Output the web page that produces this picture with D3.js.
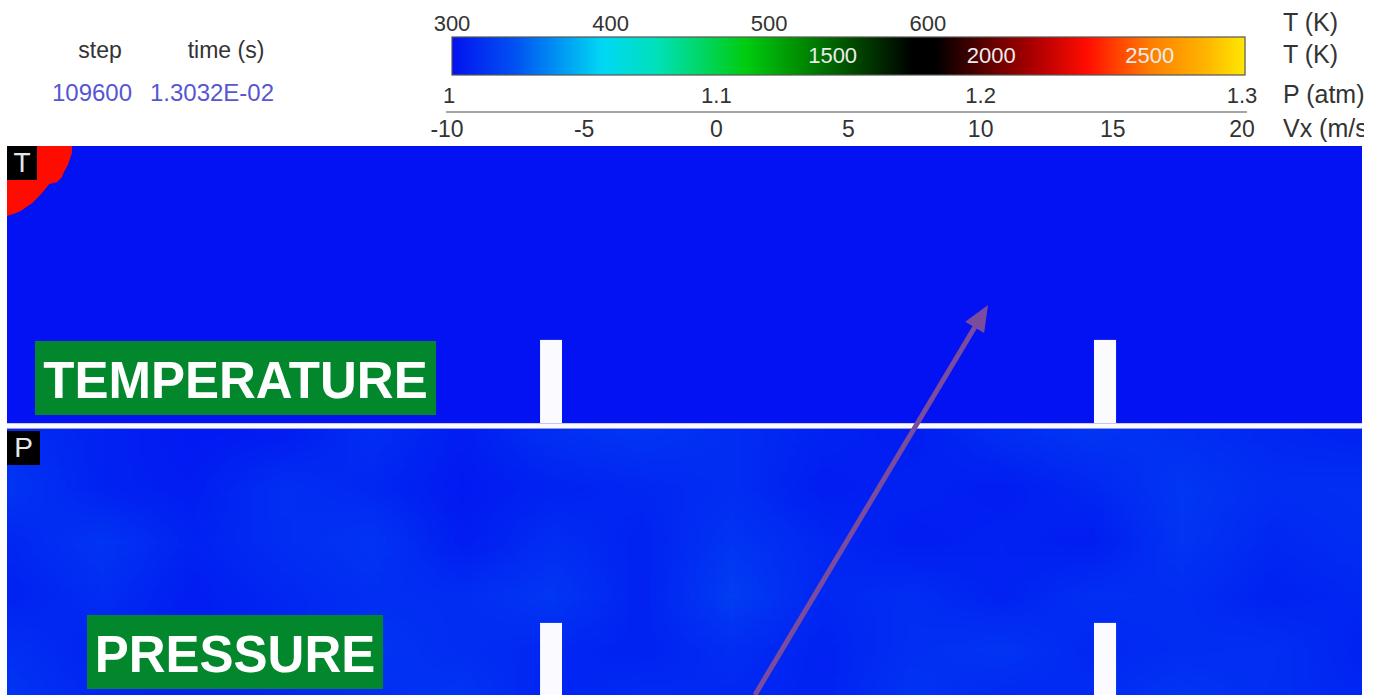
<!DOCTYPE html>
<html>
<head>
<meta charset="utf-8">
<script src="https://cdn.jsdelivr.net/npm/d3@7/dist/d3.min.js"></script>
<style>
  html, body { margin: 0; padding: 0; background: #fff; }
  svg { display: block; font-family: "Liberation Sans", Arial, sans-serif; }
</style>
</head>
<body>
<svg id="chart" width="1378" height="695"></svg>
<script>
// ---- simulation snapshot values ----
const stepValue = "109600";
const timeValue = "1.3032E-02";

// colour-bar tick rows
const tempTicksTop = [300, 400, 500, 600];      // T (K), upper row
const tempTicksBar = [1500, 2000, 2500];        // T (K), labels inside the bar
const pressureTicks = [1, 1.1, 1.2, 1.3];       // P (atm)
const velocityTicks = [-10, -5, 0, 5, 10, 15, 20]; // Vx (m/s)
const unitLabels = ["T (K)", "T (K)", "P (atm)", "Vx (m/s)"];

// colour map (fraction along the bar -> colour)
const colorMapOffsets = [0, 0.08, 0.19, 0.26, 0.37, 0.44, 0.58, 0.61, 0.67, 0.74, 0.80, 0.88, 0.95, 1];
const colorMapColors = ["#0212f2", "#0052f2", "#00d8f4", "#00e0b8", "#00cc10", "#008c00",
                        "#000000", "#000000", "#580000", "#b40000", "#ff0c00", "#ff7c00", "#ffb400", "#ffe800"];

// channel obstacles (x in % of channel length, h = fraction of panel height)
const obstacleX0 = [39.34, 80.22];
const obstacleX1 = [40.96, 81.85];
const obstacleH = [0.30, 0.30];

// temperature field: cold gas plus burnt pocket in the upper-left corner
const ambientTemperature = 300;
const flameTemperature = 2300;
const flameFrontAngle = [0, 6, 12, 18, 24, 30, 36, 42, 48, 54, 60, 66, 72, 78, 84, 90];   // degrees from the top wall
const flameFrontRadius = [4.80, 4.82, 4.74, 4.70, 4.62, 4.66, 4.55, 4.20, 4.25, 4.34, 4.45, 4.60, 4.72, 4.90, 5.02, 5.17]; // % of channel length

// pressure field (atm) on a coarse 6 x 16 grid, top row first
const pressureField = [
  [1.010, 1.006, 1.003, 1.004, 1.010, 1.004, 1.011, 1.013, 1.010, 1.006, 1.004, 1.010, 1.013, 1.011, 1.008, 1.006],
  [1.013, 1.006, 1.004, 1.011, 1.008, 1.003, 1.006, 1.008, 1.010, 1.004, 1.006, 1.004, 1.008, 1.014, 1.010, 1.011],
  [1.008, 1.013, 1.006, 1.010, 1.013, 1.004, 1.010, 1.006, 1.013, 1.008, 1.004, 1.006, 1.004, 1.013, 1.008, 1.010],
  [1.006, 1.010, 1.004, 1.008, 1.011, 1.010, 1.014, 1.006, 1.016, 1.008, 1.010, 1.006, 1.011, 1.010, 1.006, 1.008],
  [1.011, 1.006, 1.004, 1.006, 1.013, 1.010, 1.008, 1.006, 1.010, 1.006, 1.011, 1.013, 1.008, 1.010, 1.011, 1.006],
  [1.013, 1.008, 1.006, 1.008, 1.010, 1.014, 1.006, 1.010, 1.008, 1.006, 1.013, 1.008, 1.010, 1.014, 1.010, 1.008]
];

// annotation arrow (channel %, panel height fraction)
const arrowFrom = { x: 55.2, y: 0.04, panel: "P" };
const arrowTo = { x: 72.4, y: 0.426, panel: "T" };

// ---- scales ----
const barX0 = 452, barX1 = 1245;
const colorMap = d3.scaleLinear().domain(colorMapOffsets).range(colorMapColors).interpolate(d3.interpolateRgb).clamp(true);
const tTop = d3.scaleLinear([300, 800], [barX0, barX1]);
const tBar = d3.scaleLinear([300, 2800], [barX0, barX1]);
const pAxis = d3.scaleLinear([1, 1.3], [barX0, barX1]);
const vAxis = d3.scaleLinear([-10, 20], [barX0, barX1]);
const tColor = T => colorMap((T - 300) / 2500);
const pColor = P => colorMap((P - 1) / 0.3);

const xCh = d3.scaleLinear([0, 100], [7, 1362]);
const yT = d3.scaleLinear([0, 1], [423, 146]);
const yP = d3.scaleLinear([0, 1], [706, 429]);
const panelY = { T: yT, P: yP };

const svg = d3.select("#chart");
const defs = svg.append("defs");

// ---- header: step / time ----
const header = svg.append("g").attr("fill", "#333");
header.append("text").attr("x", 100).attr("y", 58).attr("text-anchor", "middle").attr("font-size", 23).text("step");
header.append("text").attr("x", 226).attr("y", 58).attr("text-anchor", "middle").attr("font-size", 23).text("time (s)");
header.append("text").attr("x", 92).attr("y", 101).attr("text-anchor", "middle").attr("font-size", 24)
  .attr("fill", "#5656d2").text(stepValue);
header.append("text").attr("x", 212).attr("y", 101).attr("text-anchor", "middle").attr("font-size", 24)
  .attr("fill", "#5656d2").text(timeValue);

// ---- colour bar ----
const grad = defs.append("linearGradient").attr("id", "cmap").attr("x1", 0).attr("x2", 1).attr("y1", 0).attr("y2", 0);
grad.selectAll("stop").data(colorMapOffsets).join("stop")
  .attr("offset", d => d).attr("stop-color", (d, i) => colorMapColors[i]);

svg.append("rect").attr("x", barX0).attr("y", 37).attr("width", barX1 - barX0).attr("height", 38)
  .attr("fill", "url(#cmap)").attr("stroke", "#555").attr("stroke-width", 1.2);

const tickFont = 22;
svg.append("g").attr("fill", "#333").attr("font-size", tickFont).attr("text-anchor", "middle")
  .selectAll("text").data(tempTicksTop).join("text")
  .attr("x", d => tTop(d)).attr("y", 31).text(d => d);

svg.append("g").attr("fill", "#ececec").attr("font-size", tickFont).attr("text-anchor", "middle")
  .selectAll("text").data(tempTicksBar).join("text")
  .attr("x", d => tBar(d)).attr("y", 63).text(d => d);

svg.append("g").attr("fill", "#333").attr("font-size", tickFont).attr("text-anchor", "middle")
  .selectAll("text").data(pressureTicks).join("text")
  .attr("x", d => pAxis(d) + (d === 1 ? -3 : (d === 1.3 ? -3 : 0))).attr("y", 103).text(d => d);

svg.append("line").attr("x1", 446).attr("x2", 1247).attr("y1", 112).attr("y2", 112)
  .attr("stroke", "#888").attr("stroke-width", 1.5);

svg.append("g").attr("fill", "#333").attr("font-size", 23).attr("text-anchor", "middle")
  .selectAll("text").data(velocityTicks).join("text")
  .attr("x", d => vAxis(d) + (d === -10 ? -5 : (d === 20 ? -3 : 0))).attr("y", 137).text(d => d);

defs.append("clipPath").attr("id", "headerClip").append("rect")
  .attr("x", 0).attr("y", 0).attr("width", 1364).attr("height", 146);
svg.append("g").attr("clip-path", "url(#headerClip)").attr("fill", "#333").attr("font-size", 25)
  .selectAll("text").data(unitLabels).join("text")
  .attr("x", 1283).attr("y", (d, i) => [31, 63, 103, 137][i]).text(d => d);

// ---- field panels ----
defs.append("clipPath").attr("id", "tClip").append("rect")
  .attr("x", xCh(0)).attr("y", yT(1)).attr("width", xCh(100) - xCh(0)).attr("height", yT(0) - yT(1));
defs.append("clipPath").attr("id", "pClip").append("rect")
  .attr("x", xCh(0)).attr("y", yP(1)).attr("width", xCh(100) - xCh(0)).attr("height", 695 - yP(1));

// temperature panel
const tPanel = svg.append("g").attr("clip-path", "url(#tClip)");
tPanel.append("rect").attr("x", xCh(0)).attr("y", yT(1)).attr("width", xCh(100) - xCh(0))
  .attr("height", yT(0) - yT(1)).attr("fill", tColor(ambientTemperature));

const pxPerUnit = xCh(1) - xCh(0);
const cx = xCh(0), cy = yT(1);
const frontPts = flameFrontAngle.map((a, i) => {
  const r = flameFrontRadius[i] * pxPerUnit, rad = a * Math.PI / 180;
  return [cx + r * Math.cos(rad), cy + r * Math.sin(rad)];
});
tPanel.append("path")
  .attr("d", d3.line()([[cx, cy], ...frontPts]) + "Z")
  .attr("fill", tColor(flameTemperature));

// pressure panel: grid rendered to a tiny raster, then smoothly upscaled
const pPanel = svg.append("g").attr("clip-path", "url(#pClip)");
const nRows = pressureField.length, nCols = pressureField[0].length;
const cvs = document.createElement("canvas");
cvs.width = nCols; cvs.height = nRows;
const ctx = cvs.getContext("2d");
pressureField.forEach((row, j) => row.forEach((v, i) => {
  ctx.fillStyle = pColor(v);
  ctx.fillRect(i, j, 1, 1);
}));
const fieldW = xCh(100) - xCh(0), fieldH = yP(0) - yP(1);
pPanel.append("image")
  .attr("href", cvs.toDataURL())
  .attr("x", xCh(0) - fieldW / nCols / 2).attr("y", yP(1) - fieldH / nRows / 2)
  .attr("width", fieldW + fieldW / nCols).attr("height", fieldH + fieldH / nRows)
  .attr("preserveAspectRatio", "none")
  .style("image-rendering", "auto");

// obstacles in both panels
[["T", tPanel], ["P", pPanel]].forEach(([key, g]) => {
  const y = panelY[key];
  g.selectAll("rect.obstacle").data(obstacleX0).join("rect").attr("class", "obstacle")
    .attr("x", (d, i) => xCh(d)).attr("width", (d, i) => xCh(obstacleX1[i]) - xCh(d))
    .attr("y", (d, i) => y(obstacleH[i])).attr("height", (d, i) => y(0) - y(obstacleH[i]))
    .attr("fill", "#fbfbff");
});

// wall between panels
svg.append("rect").attr("x", xCh(0)).attr("y", yT(0)).attr("width", xCh(100) - xCh(0)).attr("height", yP(1) - yT(0))
  .attr("fill", "#fbfbff");
svg.append("line").attr("x1", xCh(0)).attr("x2", xCh(100)).attr("y1", yT(0) + 0.5).attr("y2", yT(0) + 0.5)
  .attr("stroke", "#c8c8ec").attr("stroke-width", 1);
svg.append("line").attr("x1", xCh(0)).attr("x2", xCh(100)).attr("y1", yP(1) - 0.5).attr("y2", yP(1) - 0.5)
  .attr("stroke", "#9a9ae0").attr("stroke-width", 1);

// panel tags
const tags = [{ key: "T", x: 7, y: yT(1), w: 30, h: 34 }, { key: "P", x: 7, y: yP(1) + 2, w: 33, h: 34 }];
const tagG = svg.selectAll("g.tag").data(tags).join("g").attr("class", "tag");
tagG.append("rect").attr("x", d => d.x).attr("y", d => d.y).attr("width", d => d.w).attr("height", d => d.h).attr("fill", "#000");
tagG.append("text").attr("x", d => d.x + d.w / 2).attr("y", d => d.y + 26).attr("text-anchor", "middle")
  .attr("font-size", 28).attr("fill", "#e6e6e6").text(d => d.key);

// panel titles
const titles = [
  { text: "TEMPERATURE", x: 35, y: 341, w: 401, h: 74 },
  { text: "PRESSURE", x: 87, y: 615, w: 296, h: 74 }
];
const titleG = svg.selectAll("g.title").data(titles).join("g").attr("class", "title");
titleG.append("rect").attr("x", d => d.x).attr("y", d => d.y).attr("width", d => d.w).attr("height", d => d.h)
  .attr("fill", "#03872c");
titleG.append("text").attr("x", d => d.x + d.w / 2).attr("y", d => d.y + 57).attr("text-anchor", "middle")
  .attr("font-size", 51).attr("font-weight", "bold").attr("fill", "#fff").text(d => d.text);

// annotation arrow
const ax0 = xCh(arrowFrom.x), ay0 = panelY[arrowFrom.panel](arrowFrom.y);
const ax1 = xCh(arrowTo.x), ay1 = panelY[arrowTo.panel](arrowTo.y);
const ang = Math.atan2(ay1 - ay0, ax1 - ax0);
const headLen = 26, headHalf = 11;
const bx = ax1 - headLen * Math.cos(ang), by = ay1 - headLen * Math.sin(ang);
svg.append("line").attr("x1", ax0).attr("y1", ay0).attr("x2", bx + 3 * Math.cos(ang)).attr("y2", by + 3 * Math.sin(ang))
  .attr("stroke", "#7b4c9e").attr("stroke-width", 5);
svg.append("path")
  .attr("d", d3.line()([
    [ax1, ay1],
    [bx + headHalf * Math.sin(ang), by - headHalf * Math.cos(ang)],
    [bx - headHalf * Math.sin(ang), by + headHalf * Math.cos(ang)]
  ]) + "Z")
  .attr("fill", "#7b4c9e");
</script>
</body>
</html>
